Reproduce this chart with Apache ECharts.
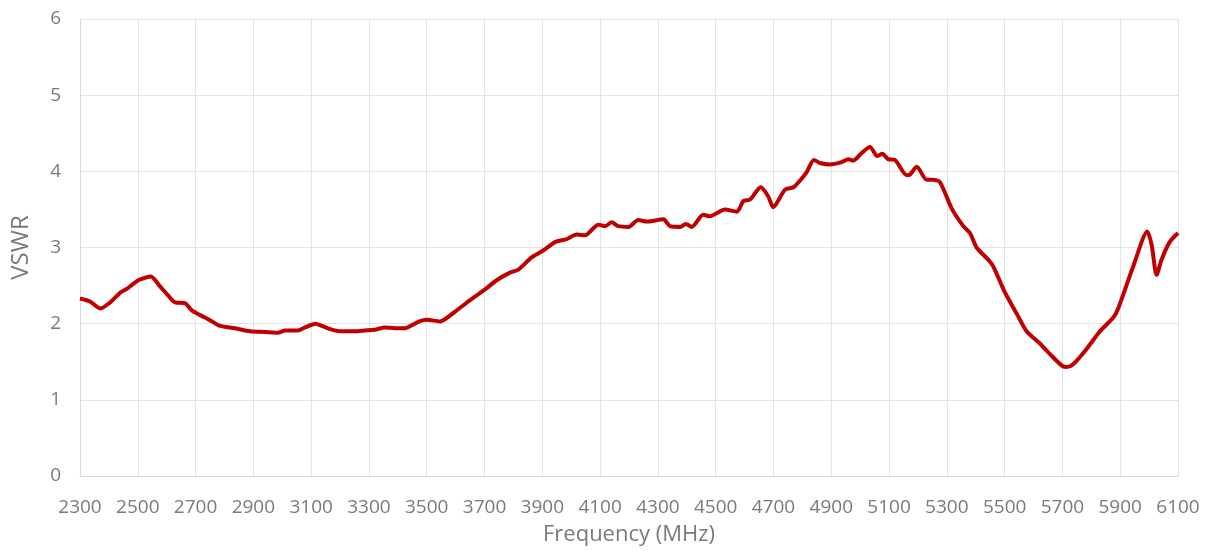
<!DOCTYPE html>
<html>
<head>
<meta charset="utf-8">
<script src="https://cdn.jsdelivr.net/npm/echarts@6/dist/echarts.min.js"></script>
<style>
html,body{margin:0;padding:0;background:#fff;}
#chart{width:1208px;height:551px;}
</style>
</head>
<body>
<div id="chart"></div>
<script>
// Frequency (MHz) sample points
var freq = [2300,2335,2370,2405,2440,2463,2490,2508,2545,2577,2605,2629,2663,2688,2733,2757,2785,2836,2888,2940,2985,3010,3054,3079,3115,3138,3165,3200,3252,3286,3320,3355,3390,3425,3449,3475,3500,3546,3592,3650,3702,3742,3788,3817,3863,3903,3944,3984,4019,4048,4094,4117,4140,4163,4198,4232,4261,4319,4342,4377,4397,4417,4457,4480,4532,4573,4596,4619,4656,4682,4699,4740,4769,4792,4815,4840,4861,4896,4936,4959,4976,5005,5034,5059,5077,5097,5120,5161,5173,5196,5230,5253,5276,5317,5357,5380,5403,5443,5461,5501,5542,5576,5622,5657,5698,5715,5738,5784,5830,5876,5893,5945,5994,6009,6026,6043,6071,6100];
// VSWR values
var vswr = [2.33,2.29,2.20,2.28,2.41,2.46,2.54,2.58,2.62,2.49,2.37,2.28,2.27,2.17,2.08,2.03,1.97,1.94,1.90,1.89,1.88,1.91,1.91,1.95,2.00,1.97,1.93,1.90,1.90,1.91,1.92,1.95,1.94,1.94,1.98,2.03,2.05,2.03,2.14,2.31,2.45,2.57,2.67,2.71,2.87,2.96,3.07,3.11,3.17,3.16,3.30,3.28,3.33,3.28,3.27,3.36,3.34,3.37,3.28,3.27,3.31,3.27,3.43,3.41,3.50,3.47,3.61,3.63,3.79,3.67,3.53,3.76,3.79,3.88,3.99,4.15,4.11,4.09,4.12,4.16,4.14,4.24,4.32,4.20,4.23,4.16,4.15,3.95,3.96,4.06,3.89,3.89,3.86,3.51,3.28,3.19,3.00,2.84,2.75,2.41,2.13,1.90,1.74,1.60,1.45,1.43,1.47,1.67,1.90,2.08,2.20,2.75,3.21,3.03,2.64,2.84,3.07,3.19];
// Axis settings
var xStart = 2300, xEnd = 6100, xStep = 200;
var yTicks = [0,1,2,3,4,5,6];

var seriesData = freq.map(function(f, i){ return [f - xStart, vswr[i]]; });

var chart = echarts.init(document.getElementById('chart'), null, {renderer:'canvas'});
var labelColor = '#7a7a7a';
var font = '"Open Sans", sans-serif';
chart.setOption({
  animation: false,
  backgroundColor: '#ffffff',
  grid: {left: 80, right: 30, top: 19, bottom: 74, containLabel: false},
  xAxis: {
    type: 'value',
    min: 0, max: xEnd - xStart, interval: xStep,
    name: 'Frequency (MHz)', nameLocation: 'middle', nameGap: 48,
    nameTextStyle: {color: labelColor, fontSize: 22, fontFamily: font},
    axisLine: {show: true, lineStyle: {color: '#d9d9d9', width: 1}},
    axisTick: {show: false},
    axisLabel: {color: labelColor, fontSize: 19, fontFamily: font, margin: 22,
      formatter: function(v){ return String(v + xStart); }},
    splitLine: {show: true, lineStyle: {color: '#e3e3e3', width: 1}}
  },
  yAxis: {
    type: 'value',
    min: yTicks[0], max: yTicks[yTicks.length-1], interval: 1,
    name: 'VSWR', nameLocation: 'middle', nameGap: 47,
    nameTextStyle: {color: labelColor, fontSize: 24, fontFamily: font},
    axisLine: {show: true, lineStyle: {color: '#d9d9d9', width: 1}},
    axisTick: {show: false},
    axisLabel: {color: labelColor, fontSize: 19, fontFamily: font, margin: 19},
    splitLine: {show: true, lineStyle: {color: '#e3e3e3', width: 1}}
  },
  series: [{
    type: 'line',
    data: seriesData,
    showSymbol: false,
    smooth: 0.25,
    lineStyle: {color: '#c00000', width: 4},
    itemStyle: {color: '#c00000'}
  }]
});
</script>
</body>
</html>
